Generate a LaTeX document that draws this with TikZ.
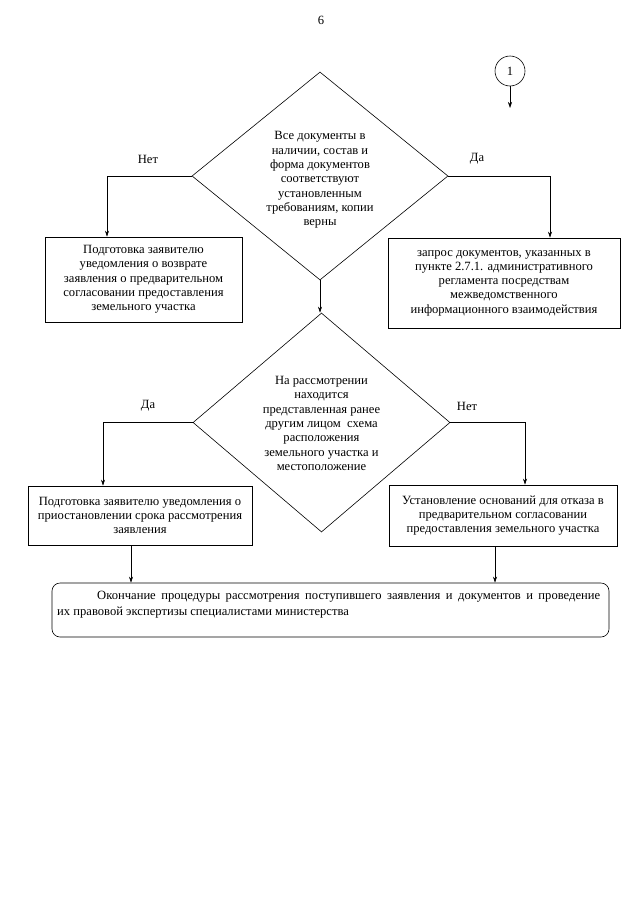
\documentclass[tikz,border=0pt]{standalone}
\usepackage{fontspec}
\setmainfont{Liberation Serif}
\usetikzlibrary{shapes.geometric,arrows.meta,calc}
\begin{document}
\begin{tikzpicture}[x=1pt,y=-1pt,
  every node/.style={font=\fontsize{12.6}{14.3}\selectfont},
  arr/.style={line width=0.6pt,-{Stealth[length=6pt,width=4pt]}},
  dia/.style={draw,line width=0.6pt,shape=diamond,inner sep=0pt},
  txt/.style={align=center,inner sep=0pt},
  box/.style={draw,line width=0.6pt,align=center,inner sep=0pt},
  rbox/.style={draw,line width=0.6pt,rounded corners=8pt,inner sep=0pt}]
\useasboundingbox[fill=white] (0,0) rectangle (640,905);
\node (pg) at (321,20) {6};
\node[draw,line width=0.6pt,circle,minimum size=30pt,inner sep=0pt] (c1) at (510,71) {1};
\coordinate (c1e) at (510,108);
\draw[arr] (c1) -- (c1e);

\node[dia,minimum width=256pt,minimum height=208pt] (d1) at (320,176) {};
\node[txt] (d1t) at (320,180) {Все документы в\\наличии, состав и\\форма документов\\соответствуют\\установленным\\требованиям, копии\\верны};

\node[box,minimum width=197pt,minimum height=85pt] (b1) at (143.5,279.5) {Подготовка заявителю\\уведомления о возврате\\заявления о предварительном\\согласовании предоставления\\земельного участка};
\node[box,minimum width=232pt,minimum height=90pt] (b2) at (504,283) {запрос документов, указанных в\\пункте 2.7.1. административного\\регламента посредствам\\межведомственного\\информационного взаимодействия};

\node (l1) at (148,159) {Нет};
\node (l2) at (477,159) {Да};
\draw[arr] (d1.west) -| ([xshift=-36.5pt]b1.north);
\draw[arr] (d1.east) -| ([xshift=46pt]b2.north);

\node[dia,minimum width=257pt,minimum height=219pt] (d2) at (321.5,422.5) {};
\node[txt] (d2t) at (321.5,423.5) {На рассмотрении\\находится\\представленная ранее\\другим лицом\ \ схема\\расположения\\земельного участка и\\местоположение};
\draw[arr] (d1.south) -- (d1.south |- d2.north);

\node[box,minimum width=224pt,minimum height=59pt] (b3) at (140,515.5) {Подготовка заявителю уведомления о\\приостановлении срока рассмотрения\\заявления};
\node[box,minimum width=228pt,minimum height=61pt] (b4) at (503,515.5) {Установление оснований для отказа в\\предварительном согласовании\\предоставления земельного участка};

\node (l3) at (148,406) {Да};
\node (l4) at (467,406) {Нет};
\draw[arr] (d2.west) -| ([xshift=-37pt]b3.north);
\draw[arr] (d2.east) -| ([xshift=22pt]b4.north);

\node[rbox,minimum width=557pt,minimum height=54pt] (rb) at (330.5,610) {};
\node[anchor=north west,inner sep=0pt,align=left,font=\fontsize{12.6}{16}\selectfont] (rbt) at (57,591) {\hspace*{40pt}\makebox[503pt][s]{Окончание процедуры рассмотрения поступившего заявления и документов и проведение}\\их правовой экспертизы специалистами министерства};
\draw[arr] ([xshift=-9pt]b3.south) -- ([xshift=-9pt]b3.south |- rb.north);
\draw[arr] ([xshift=-8pt]b4.south) -- ([xshift=-8pt]b4.south |- rb.north);
\end{tikzpicture}
\end{document}
